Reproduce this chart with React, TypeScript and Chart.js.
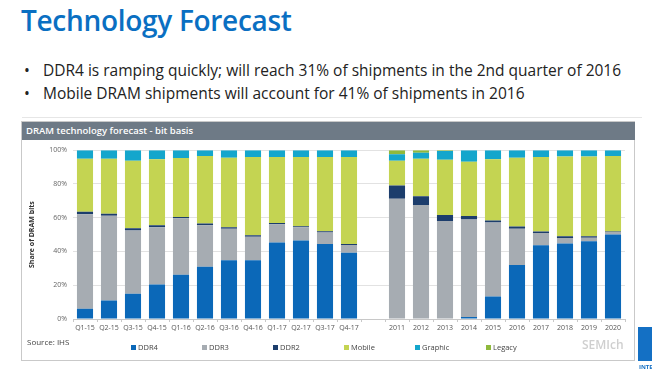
import React, { useEffect, useRef } from "react";
import { Chart, registerables } from "chart.js";

Chart.register(...registerables);

const categories = [
  "Q1-15", "Q2-15", "Q3-15", "Q4-15", "Q1-16", "Q2-16", "Q3-16", "Q4-16",
  "Q1-17", "Q2-17", "Q3-17", "Q4-17", "",
  "2011", "2012", "2013", "2014", "2015", "2016", "2017", "2018", "2019", "2020",
];

const ddr4 = [6, 11, 15, 20.4, 26.2, 31, 34.8, 34.8, 45.3, 46.5, 44.5, 39.3, null, 0, 0, 0, 1.2, 13.4, 32, 43.7, 44.7, 46, 50];
const ddr3 = [56, 50.2, 37.5, 34, 33.5, 24.6, 18.7, 14, 10.9, 7.9, 6.8, 4.6, null, 71.3, 67.5, 58.1, 57.8, 43.7, 21.5, 7.2, 3.3, 2.2, 1.5];
const ddr2 = [1.5, 1.2, 1.3, 1.2, 0.8, 1, 0.9, 0.8, 0.6, 0.6, 0.7, 0.6, null, 7.8, 5.2, 3.5, 2, 1.2, 1.3, 1, 1, 0.8, 0.4];
const mobile = [31.5, 32.6, 39.9, 39, 34.9, 40, 41.2, 46.4, 39.2, 41, 44, 51.5, null, 14.6, 22.3, 32.7, 32.1, 36.3, 40.8, 44.1, 47.2, 47.2, 44.7];
const graphic = [5, 5, 6.3, 5.4, 4.6, 3.4, 4.4, 4, 4, 4, 4, 4, null, 3.9, 3.5, 5.2, 6.9, 5.4, 4.4, 4, 3.8, 3.8, 3.4];
const legacy = [0, 0, 0, 0, 0, 0, 0, 0, 0, 0, 0, 0, null, 2.4, 1.5, 0.5, 0, 0, 0, 0, 0, 0, 0];

const yTicks = [0, 20, 40, 60, 80, 100];

const seriesNames = ["DDR4", "DDR3", "DDR2", "Mobile", "Graphic", "Legacy"];
const seriesData = [ddr4, ddr3, ddr2, mobile, graphic, legacy];
const seriesColors = ["#0b68b8", "#a6acb2", "#1c3d6c", "#c4d452", "#14a6cc", "#8fb93c"];

const bullets = [
  "DDR4 is ramping quickly; will reach 31% of shipments in the 2nd quarter of 2016",
  "Mobile DRAM shipments will account for 41% of shipments in 2016",
];

const FONT = "'Open Sans', 'Noto Sans', sans-serif";

export default function App() {
  const ref = useRef<HTMLCanvasElement | null>(null);

  useEffect(() => {
    if (!ref.current) return;
    const chart = new Chart(ref.current, {
      type: "bar",
      data: {
        labels: categories,
        datasets: seriesNames.map((n, i) => ({
          label: n,
          data: seriesData[i],
          backgroundColor: seriesColors[i],
          borderWidth: 0,
          categoryPercentage: 1,
          barPercentage: 0.67,
        })),
      },
      options: {
        responsive: false,
        animation: false,
        layout: { padding: { left: 0, right: 11, top: 8, bottom: 0 } },
        plugins: { legend: { display: false }, tooltip: { enabled: false } },
        scales: {
          x: {
            stacked: true,
            offset: true,
            grid: { display: true, drawOnChartArea: false, offset: true, tickLength: 3, color: "#c8c8c8" },
            border: { color: "#c8c8c8" },
            ticks: { font: { size: 7, family: FONT }, color: "#555", maxRotation: 0, autoSkip: false, padding: 2 },
            afterFit: (s: any) => { s.height = 42; },
          },
          y: {
            stacked: true,
            min: 0,
            max: 100,
            afterBuildTicks: (s: any) => { s.ticks = yTicks.map((v) => ({ value: v })); },
            ticks: { font: { size: 7, family: FONT }, color: "#666", padding: 6, callback: (v: any) => v + "%" },
            grid: { color: "#e2e2e2", drawTicks: false },
            border: { display: false },
            title: { display: true, text: "Share of DRAM bits", font: { size: 7, weight: "bold", family: FONT }, color: "#333", padding: { top: 6, bottom: 0 } },
            afterFit: (s: any) => { s.width = 51; },
          },
        },
      },
    });
    return () => chart.destroy();
  }, []);

  return (
    <div style={{ position: "fixed", left: 0, top: 0, width: 652, height: 374, background: "#fff", overflow: "hidden", fontFamily: FONT }}>
      <div style={{ position: "absolute", left: 21, top: 1, fontSize: 28, fontWeight: 600, color: "#0a6fc2", letterSpacing: -0.3, whiteSpace: "nowrap" }}>
        Technology Forecast
      </div>
      {bullets.map((b, i) => (
        <div key={i} style={{ position: "absolute", left: 24, top: 59 + i * 23, fontSize: 15.5, color: "#222", whiteSpace: "nowrap" }}>
          <span style={{ display: "inline-block", width: 19 }}>•</span>
          {b}
        </div>
      ))}
      <div style={{ position: "absolute", left: 22, top: 117, width: 620, height: 1, background: "#e6e6e6" }} />
      <div style={{ position: "absolute", left: 21, top: 121, width: 614, height: 240, border: "1px solid #c9c9c9", boxSizing: "border-box" }} />
      <div style={{ position: "absolute", left: 22, top: 122, width: 613, height: 18, background: "#6e7a86", color: "#fff", fontSize: 9.5, fontWeight: 600, lineHeight: "18px", paddingLeft: 4, boxSizing: "border-box" }}>
        DRAM technology forecast - bit basis
      </div>
      <canvas ref={ref} width={614} height={221} style={{ position: "absolute", left: 22, top: 140, width: 614, height: 221 }} />
      <div style={{ position: "absolute", left: 27, top: 336, fontSize: 8, color: "#444" }}>Source: IHS</div>
      {seriesNames.map((n, i) => (
        <div key={n} style={{ position: "absolute", left: 131 + i * 71, top: 342, fontSize: 7.5, color: "#444", whiteSpace: "nowrap", display: "flex", alignItems: "center" }}>
          <span style={{ display: "inline-block", width: 5, height: 5, background: seriesColors[i], marginRight: 2 }} />
          {n}
        </div>
      ))}
      <div style={{ position: "absolute", left: 582, top: 336, fontSize: 12, color: "#cfcfcf", fontWeight: 600, whiteSpace: "nowrap" }}>SEMIch</div>
      <div style={{ position: "absolute", left: 638, top: 327, width: 14, height: 34, background: "#1470c4" }} />
      <div style={{ position: "absolute", left: 639, top: 363, fontSize: 6, color: "#1470c4", fontWeight: 700 }}>INTEL</div>
    </div>
  );
}
